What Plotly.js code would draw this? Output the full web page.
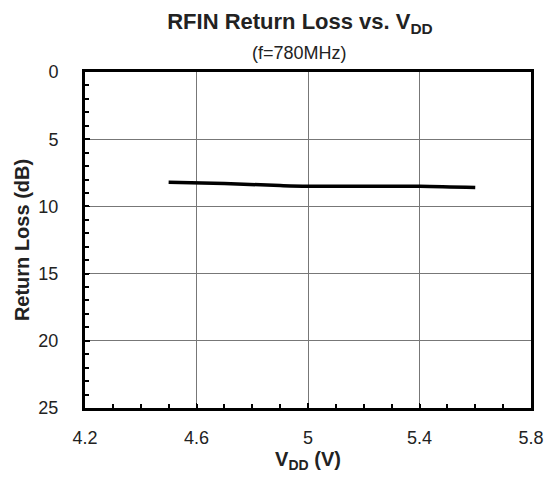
<!DOCTYPE html>
<html>
<head>
<meta charset="utf-8">
<script src="https://cdn.plot.ly/plotly-3.0.1.min.js"></script>
<style>html,body{margin:0;padding:0;background:#fff;}#chart{width:547px;height:477px;}</style>
</head>
<body>
<div id="chart"></div>
<script>
const vdd = [4.5, 4.7, 4.9, 5.0, 5.2, 5.4, 5.6];
const returnLoss = [8.2, 8.3, 8.45, 8.5, 8.5, 8.5, 8.6];
const xTicks = [4.2, 4.6, 5, 5.4, 5.8];
const xTickLabels = ['4.2', '4.6', '5', '5.4', '5.8'];
const yTicks = [0, 5, 10, 15, 20, 25];

const trace = {
  x: vdd, y: returnLoss, type: 'scatter', mode: 'lines',
  line: {color: '#000', width: 3.5, shape: 'spline'},
  hoverinfo: 'skip'
};

const layout = {
  width: 547, height: 477,
  margin: {l: 85, r: 16, t: 72, b: 69},
  paper_bgcolor: '#fff', plot_bgcolor: '#fff',
  showlegend: false,
  font: {family: 'Arial, "Liberation Sans", sans-serif', color: '#222'},
  title: {
    text: '<b>RFIN Return Loss vs. V<sub>DD</sub></b>',
    font: {size: 22, color: '#222'},
    x: 0.482, xref: 'paper', xanchor: 'center',
    y: 0.955, yref: 'container', yanchor: 'middle'
  },
  annotations: [{
    text: '(f=780MHz)', xref: 'paper', yref: 'paper',
    x: 0.48, y: 1.0, xanchor: 'center', yanchor: 'middle', yshift: 19,
    showarrow: false, font: {size: 18, color: '#222'}
  }],
  xaxis: {
    range: [4.2, 5.8], tickvals: xTicks, ticktext: xTickLabels,
    showgrid: true, gridcolor: '#777', gridwidth: 1,
    showline: true, linecolor: '#000', linewidth: 3, mirror: true,
    ticks: 'inside', ticklen: 5, tickcolor: '#000', tickwidth: 1.5,
    minor: {dtick: 0.1, tick0: 4.2, ticks: 'inside', ticklen: 4, tickcolor: '#000', tickwidth: 2, showgrid: false},
    tickfont: {size: 18, color: '#222'},
    ticklabelstandoff: 11,
    zeroline: false,
    title: {text: '<b>V<sub>DD</sub> (V)</b>', font: {size: 20, color: '#222'}, standoff: 6}
  },
  yaxis: {
    range: [25, 0], tickvals: yTicks,
    showgrid: true, gridcolor: '#777', gridwidth: 1,
    showline: true, linecolor: '#000', linewidth: 3, mirror: true,
    ticks: 'inside', ticklen: 5, tickcolor: '#000', tickwidth: 1.5,
    minor: {dtick: 1, tick0: 0, ticks: 'inside', ticklen: 4, tickcolor: '#000', tickwidth: 2, showgrid: false},
    tickfont: {size: 18, color: '#222'},
    zeroline: false,
    ticklabelstandoff: 20,
    title: {text: '<b>Return Loss (dB)</b>', font: {size: 20, color: '#222'}, standoff: 4}
  }
};

Plotly.newPlot('chart', [trace], layout, {displayModeBar: false, staticPlot: true});
</script>
</body>
</html>
